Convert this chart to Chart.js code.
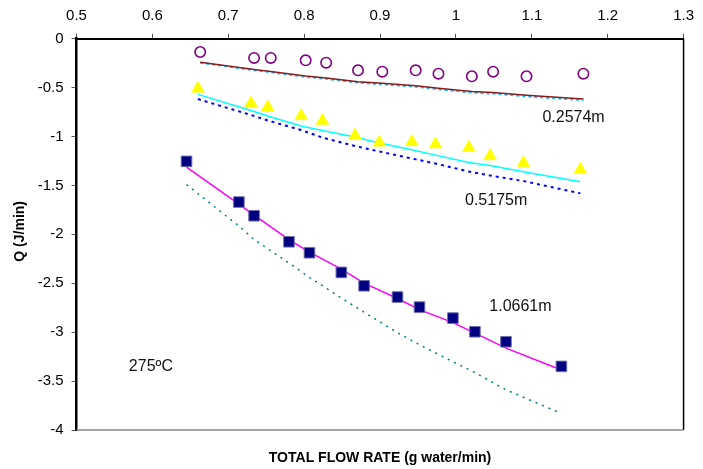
<!DOCTYPE html>
<html>
<head>
<meta charset="utf-8">
<script src="https://cdn.jsdelivr.net/npm/chart.js@4/dist/chart.umd.min.js"></script>
<style>
  html, body { margin: 0; padding: 0; background: #fff; }
  #wrap { width: 703px; height: 469px; }
</style>
</head>
<body>
<div id="wrap"><canvas id="c" width="703" height="469"></canvas></div>
<script>
// Axis ticks
const xTicks = [0.5, 0.6, 0.7, 0.8, 0.9, 1.0, 1.1, 1.2, 1.3];
const yTicks = [0, -0.5, -1, -1.5, -2, -2.5, -3, -3.5, -4];

// Tube length 0.2574 m
const flowA = [0.663, 0.734, 0.756, 0.802, 0.829, 0.871, 0.903, 0.947, 0.977, 1.021, 1.049, 1.093, 1.168];
const qA_exp = [-0.136, -0.197, -0.197, -0.221, -0.245, -0.323, -0.337, -0.323, -0.358, -0.384, -0.337, -0.384, -0.358];
const qA_model1 = [-0.241, -0.315, -0.335, -0.381, -0.402, -0.440, -0.456, -0.481, -0.507, -0.540, -0.550, -0.579, -0.617];
const qA_model2 = [-0.245, -0.322, -0.343, -0.390, -0.410, -0.449, -0.466, -0.491, -0.517, -0.551, -0.561, -0.590, -0.628];

// Tube length 0.5175 m
const flowB = [0.660, 0.730, 0.752, 0.796, 0.824, 0.867, 0.899, 0.942, 0.973, 1.017, 1.045, 1.089, 1.164];
const qB_exp = [-0.51, -0.66, -0.70, -0.79, -0.84, -0.99, -1.06, -1.055, -1.08, -1.115, -1.20, -1.27, -1.34];
const qB_model1 = [-0.569, -0.734, -0.790, -0.893, -0.939, -1.005, -1.066, -1.136, -1.190, -1.266, -1.297, -1.360, -1.462];
const qB_model2 = [-0.617, -0.780, -0.836, -0.934, -1.010, -1.097, -1.153, -1.225, -1.276, -1.358, -1.399, -1.455, -1.581];

// Tube length 1.0661 m
const flowC = [0.645, 0.714, 0.734, 0.780, 0.807, 0.849, 0.879, 0.923, 0.952, 0.996, 1.025, 1.066, 1.139];
const qC_exp = [-1.254, -1.670, -1.810, -2.076, -2.188, -2.389, -2.526, -2.641, -2.744, -2.856, -2.996, -3.098, -3.350];
const qC_model1 = [-1.312, -1.690, -1.803, -2.053, -2.181, -2.355, -2.498, -2.656, -2.769, -2.902, -3.009, -3.163, -3.387];
const qC_model2 = [-1.491, -1.915, -2.053, -2.293, -2.440, -2.651, -2.796, -3.005, -3.129, -3.301, -3.413, -3.589, -3.832];

// In-plot labels: [text, flow, Q]
const labels = [
  ['0.2574m', 1.114, -0.81],
  ['0.5175m', 1.012, -1.65],
  ['1.0661m', 1.044, -2.74],
  ['275ºC', 0.569, -3.355]
];

const pts = (xs, ys) => xs.map((x, i) => ({ x, y: ys[i] }));

const FONT = "'Liberation Sans', Arial, sans-serif";

const frame = {
  id: 'frame',
  afterDatasetsDraw(chart) {
    const { ctx, chartArea: a, scales } = chart;
    ctx.save();
    // right and bottom edges of the plot box
    ctx.lineWidth = 1.5;
    ctx.strokeStyle = '#000';
    ctx.beginPath();
    ctx.moveTo(a.right, a.top);
    ctx.lineTo(a.right, a.bottom);
    ctx.stroke();
    ctx.strokeStyle = '#888';
    ctx.beginPath();
    ctx.moveTo(a.left, a.bottom);
    ctx.lineTo(a.right, a.bottom);
    ctx.stroke();

    // curve labels
    ctx.fillStyle = '#111';
    ctx.font = '16px ' + FONT;
    ctx.textAlign = 'left';
    ctx.textBaseline = 'middle';
    labels.forEach(([t, x, y]) => {
      ctx.fillText(t, scales.x.getPixelForValue(x), scales.y.getPixelForValue(y));
    });

    // axis titles
    ctx.font = 'bold 14px ' + FONT;
    ctx.fillStyle = '#000';
    ctx.textAlign = 'center';
    ctx.fillText('TOTAL FLOW RATE (g water/min)', (a.left + a.right) / 2, 458);
    ctx.translate(20, (a.top + a.bottom) / 2 - 3);
    ctx.rotate(-Math.PI / 2);
    ctx.fillText('Q (J/min)', 0, 0);
    ctx.restore();
  }
};

new Chart(document.getElementById('c'), {
  type: 'scatter',
  data: {
    datasets: [
      { data: pts(flowA, qA_exp), pointStyle: 'circle', pointRadius: 5.2, borderColor: '#800080', backgroundColor: 'rgba(0,0,0,0)', borderWidth: 1.6, showLine: false },
      { data: pts(flowB, qB_exp), pointStyle: 'triangle', pointRadius: 7.5, borderColor: '#FFFF00', backgroundColor: '#FFFF00', borderWidth: 0.5, showLine: false },
      { data: pts(flowC, qC_exp), pointStyle: 'rect', pointRadius: 7.5, borderColor: '#6f6fb0', backgroundColor: '#000080', borderWidth: 1, showLine: false },
      { data: pts(flowA, qA_model1), showLine: true, pointRadius: 0, borderColor: '#8B1C1C', borderWidth: 1.5 },
      { data: pts(flowA, qA_model2), showLine: true, pointRadius: 0, borderColor: '#1FB8F0', borderWidth: 2, borderDash: [3, 3] },
      { data: pts(flowB, qB_model1), showLine: true, pointRadius: 0, borderColor: '#00FFFF', borderWidth: 1.5 },
      { data: pts(flowB, qB_model2), showLine: true, pointRadius: 0, borderColor: '#0000FF', borderWidth: 2, borderDash: [3, 4] },
      { data: pts(flowC, qC_model1), showLine: true, pointRadius: 0, borderColor: '#FF00FF', borderWidth: 1.5 },
      { data: pts(flowC, qC_model2), showLine: true, pointRadius: 0, borderColor: '#008080', borderWidth: 1.5, borderDash: [2, 5] }
    ]
  },
  options: {
    responsive: false,
    animation: false,
    events: [],
    layout: { padding: { left: 0, top: 0, right: 14, bottom: 39 } },
    plugins: { legend: { display: false }, tooltip: { enabled: false } },
    scales: {
      x: {
        type: 'linear',
        position: 'top',
        min: 0.5,
        max: 1.3,
        afterBuildTicks: s => { s.ticks = xTicks.map(v => ({ value: v })); },
        afterFit: s => { s.height = 38.7; },
        ticks: {
          padding: 9,
          color: '#000',
          font: { family: FONT, size: 15 },
          callback: v => String(v)
        },
        grid: { drawOnChartArea: false, drawTicks: true, tickLength: 5, color: '#555', tickWidth: 1 },
        border: { display: true, color: '#000', width: 2 }
      },
      y: {
        type: 'linear',
        min: -4,
        max: 0,
        afterBuildTicks: s => { s.ticks = yTicks.map(v => ({ value: v })); },
        afterFit: s => { s.width = 76.5; },
        ticks: {
          padding: 8,
          color: '#000',
          font: { family: FONT, size: 15 },
          callback: v => String(v)
        },
        grid: { drawOnChartArea: false, drawTicks: true, tickLength: 5, color: '#555', tickWidth: 1 },
        border: { display: true, color: '#000', width: 2.5 }
      }
    }
  },
  plugins: [frame]
});
</script>
</body>
</html>
